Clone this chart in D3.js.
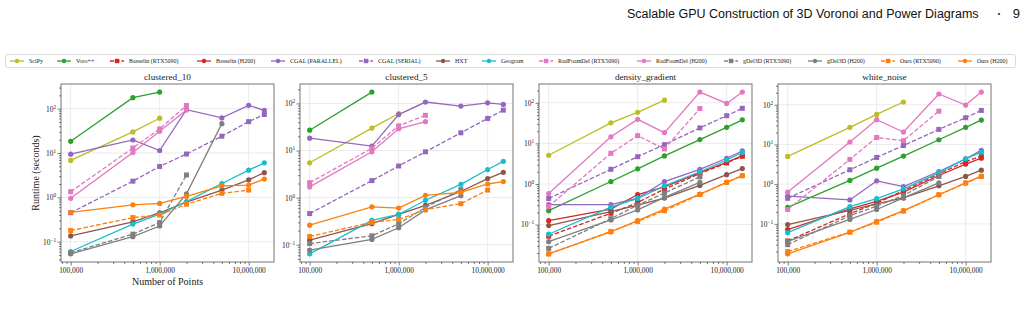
<!DOCTYPE html>
<html><head><meta charset="utf-8">
<script src="https://cdn.jsdelivr.net/npm/d3@7"></script>
<style>body{margin:0;background:#fff}svg{display:block}</style>
</head><body><svg id="c" width="1025" height="317"></svg>
<script>
// ---------- data ----------
const xValues = [1e5, 5e5, 1e6, 2e6, 5e6, 1e7, 1.5e7];
const datasetNames = ["clustered_10", "clustered_5", "density_gradient", "white_noise"];
const seriesNames = ["SciPy", "Voro++", "Basselin (RTX5090)", "Basselin (H200)", "CGAL (PARALLEL)", "CGAL (SERIAL)", "HXT", "Geogram",
  "RadFoamDel (RTX5090)", "RadFoamDel (H200)", "gDel3D (RTX5090)", "gDel3D (H200)", "Ours (RTX5090)", "Ours (H200)"];
const seriesColors = ["#bcbd22", "#2ca02c", "#d62728", "#d62728", "#9467bd", "#9467bd", "#8c564b", "#17becf",
  "#e377c2", "#e377c2", "#7f7f7f", "#7f7f7f", "#ff7f0e", "#ff7f0e"];
const seriesDashed = [false, false, true, false, false, true, false, false, true, false, true, false, true, false];
const seriesMarker = ["circle", "circle", "square", "circle", "circle", "square", "circle", "circle", "square", "circle", "square", "circle", "square", "circle"];
const xTickValues = [1e5, 1e6, 1e7];
const xTickLabels = ["100,000", "1,000,000", "10,000,000"];

// values per series (series order as above), by x index
const clustered10 = [
  [6.8, 30, 61],
  [18.4, 177, 237],
  [],
  [],
  [9.4, 19.7, 11.4, 95, 62, 119, 92],
  [0.45, 2.32, 4.98, 9.5, 24, 51, 74],
  [0.135, 0.28, 0.45, 0.78, 1.46, 2.49, 3.6],
  [0.06, 0.25, 0.42, 0.8, 2.05, 4.1, 6.0],
  [1.34, 13, 35, 118],
  [0.95, 10.3, 31, 94],
  [0.056, 0.148, 0.27, 3.2],
  [0.053, 0.13, 0.226, 1.2, 46],
  [0.178, 0.35, 0.40, 0.70, 1.23, 1.46],
  [0.46, 0.68, 0.73, 1.05, 1.82, 1.89, 2.58]
];
const clustered5 = [
  [5.5, 30, 61],
  [27, 174],
  [],
  [],
  [18.3, 12.4, 58, 107, 88, 103, 95],
  [0.46, 2.3, 4.7, 9.4, 23.8, 48, 72],
  [0.125, 0.28, 0.44, 0.685, 1.35, 2.54, 3.45],
  [0.064, 0.33, 0.44, 0.88, 1.92, 3.95, 5.9],
  [2.08, 11.2, 33.5, 56],
  [1.69, 9.4, 29, 41],
  [0.106, 0.155, 0.28, 0.62, 1.48],
  [0.077, 0.13, 0.23, 0.55, 1.1],
  [0.15, 0.30, 0.345, 0.56, 0.745, 1.45],
  [0.26, 0.64, 0.60, 1.12, 1.3, 1.95, 2.2]
];
const densityGradient = [
  [5.1, 32, 58, 116],
  [0.22, 1.15, 2.36, 4.9, 12.4, 24.8, 38],
  [0.052, 0.19, 0.35, 0.75, 1.8, 3.3, 4.8],
  [0.125, 0.24, 0.55, 0.85, 1.9, 3.4, 5.0],
  [0.31, 0.31, 0.45, 1.15, 2.3, 4.3, 6.5],
  [0.44, 2.3, 4.7, 9.3, 24, 48, 73],
  [0.095, 0.21, 0.3, 0.45, 0.92, 1.7, 2.4],
  [0.058, 0.27, 0.44, 0.9, 2.0, 3.9, 6.0],
  [0.28, 5.7, 15.5, 7.3, 72],
  [0.58, 14.5, 39, 18.4, 183, 96, 183],
  [0.026, 0.14, 0.3, 0.6, 1.5],
  [0.038, 0.13, 0.23, 0.47, 1.1],
  [0.019, 0.068, 0.12, 0.22, 0.55, 1.1, 1.6],
  [0.019, 0.066, 0.125, 0.24, 0.56, 1.1, 1.6]
];
const whiteNoise = [
  [5.0, 27, 57, 117],
  [0.26, 1.24, 2.53, 5.1, 13.1, 26.9, 41],
  [0.037, 0.18, 0.33, 0.69, 1.8, 3.7, 5.1],
  [0.072, 0.24, 0.37, 0.63, 1.65, 3.2, 4.5],
  [0.50, 0.40, 1.21, 0.87, 2.08, 4.35, 7.1],
  [0.44, 2.3, 4.7, 9.4, 23.9, 47, 72],
  [0.096, 0.217, 0.32, 0.45, 0.91, 1.56, 2.25],
  [0.060, 0.27, 0.43, 0.76, 1.93, 4.35, 6.4],
  [0.23, 4.2, 15, 12.4, 69],
  [0.63, 11.5, 42, 20.5, 186, 98, 208],
  [0.030, 0.16, 0.28, 0.52, 1.56],
  [0.036, 0.129, 0.23, 0.45, 1.08],
  [0.020, 0.062, 0.11, 0.21, 0.54, 1.06, 1.56],
  [0.0175, 0.061, 0.115, 0.215, 0.54, 1.08, 1.6]
];
const panelValues = [clustered10, clustered5, densityGradient, whiteNoise];

// ---------- layout ----------
const SERIF = "'Liberation Serif', 'Times New Roman', serif";
const svg = d3.select("#c");
const W = 213, TOP = 84, BOT = 262;
const panelX0 = 61, panelStep = 239;
const legendTextX = [29, 76, 129, 216, 290, 378, 455, 501, 558, 656, 743, 827, 900, 977];

// header
svg.append("text").attr("x", 627).attr("y", 18)
  .attr("font-family", "'Liberation Sans',sans-serif").attr("font-size", 12.5).attr("fill", "#111")
  .text("Scalable GPU Construction of 3D Voronoi and Power Diagrams");
svg.append("text").attr("x", 999).attr("y", 16).attr("text-anchor", "middle")
  .attr("font-family", "'Liberation Sans',sans-serif").attr("font-size", 7).attr("fill", "#111").text("•");
svg.append("text").attr("x", 1020).attr("y", 18).attr("text-anchor", "end")
  .attr("font-family", "'Liberation Sans',sans-serif").attr("font-size", 13).attr("fill", "#111").text("9");

function drawMarker(g, type, cx, cy, color, size) {
  if (type === "square") {
    g.append("rect").attr("x", cx - size / 2).attr("y", cy - size / 2).attr("width", size).attr("height", size).attr("fill", color);
  } else {
    g.append("circle").attr("cx", cx).attr("cy", cy).attr("r", size / 2).attr("fill", color);
  }
}

// legend
const lg = svg.append("g");
lg.append("rect").attr("x", 5.5).attr("y", 54.5).attr("width", 1010).attr("height", 13).attr("rx", 2)
  .attr("fill", "#fff").attr("stroke", "#d0d0d0").attr("stroke-width", 0.8);
seriesNames.forEach((name, i) => {
  const tx = legendTextX[i], cy = 61;
  const x1 = tx - 19, x2 = tx - 5;
  lg.append("line").attr("x1", x1).attr("x2", x2).attr("y1", cy).attr("y2", cy)
    .attr("stroke", seriesColors[i]).attr("stroke-width", 1.3)
    .attr("stroke-dasharray", seriesDashed[i] ? "4,1.7" : null);
  drawMarker(lg, seriesMarker[i], (x1 + x2) / 2, cy, seriesColors[i], 4.4);
  lg.append("text").attr("x", tx).attr("y", cy + 2).attr("font-family", SERIF).attr("font-size", 6)
    .attr("fill", "#222").text(name);
});

// panels
datasetNames.forEach((dname, p) => {
  const L = panelX0 + p * panelStep, R = L + W;
  const vals = panelValues[p];
  const g = svg.append("g");

  const xl = [Math.log10(xValues[0]), Math.log10(xValues[xValues.length - 1])];
  const xp = 0.05 * (xl[1] - xl[0]);
  const x = d3.scaleLog().domain([10 ** (xl[0] - xp), 10 ** (xl[1] + xp)]).range([L, R]);
  const all = vals.flat();
  const yl = [Math.log10(d3.min(all)), Math.log10(d3.max(all))];
  const yp = 0.05 * (yl[1] - yl[0]);
  const y = d3.scaleLog().domain([10 ** (yl[0] - yp), 10 ** (yl[1] + yp)]).range([BOT, TOP]);

  const yMajor = [];
  for (let k = Math.ceil(yl[0] - yp); k <= Math.floor(yl[1] + yp); k++) yMajor.push(10 ** k);
  const yMinor = [];
  for (let k = Math.floor(yl[0] - yp); k <= Math.ceil(yl[1] + yp); k++)
    for (let m = 2; m <= 9; m++) { const v = m * 10 ** k; if (v >= y.domain()[0] && v <= y.domain()[1]) yMinor.push(v); }
  const xMinor = [];
  for (let k = 4; k <= 7; k++) for (let m = 2; m <= 9; m++) { const v = m * 10 ** k; if (v >= x.domain()[0] && v <= x.domain()[1]) xMinor.push(v); }

  // grid
  g.selectAll(".gx").data(xTickValues).enter().append("line")
    .attr("x1", d => x(d)).attr("x2", d => x(d)).attr("y1", TOP).attr("y2", BOT)
    .attr("stroke", "#e6e6e6").attr("stroke-width", 0.8);
  g.selectAll(".gy").data(yMajor).enter().append("line")
    .attr("x1", L).attr("x2", R).attr("y1", d => y(d)).attr("y2", d => y(d))
    .attr("stroke", "#e6e6e6").attr("stroke-width", 0.8);

  // series
  vals.forEach((arr, si) => {
    if (!arr.length) return;
    const pts = arr.map((v, j) => [xValues[j], v]);
    g.append("path").datum(pts)
      .attr("d", d3.line().x(d => x(d[0])).y(d => y(d[1])))
      .attr("fill", "none").attr("stroke", seriesColors[si]).attr("stroke-width", 1.3)
      .attr("stroke-dasharray", seriesDashed[si] ? "4.5,2" : null);
    pts.forEach(d => drawMarker(g, seriesMarker[si], x(d[0]), y(d[1]), seriesColors[si], seriesMarker[si] === "square" ? 5 : 5.2));
  });

  // frame
  g.append("rect").attr("x", L).attr("y", TOP).attr("width", W).attr("height", BOT - TOP)
    .attr("fill", "none").attr("stroke", "#8a8a8a").attr("stroke-width", 1.2);

  // x axis
  const xAx = g.append("g").attr("transform", `translate(0,${BOT})`)
    .call(d3.axisBottom(x).tickValues(xTickValues).tickFormat((d, i) => xTickLabels[i]).tickSize(3.5).tickPadding(2));
  const xAxMinor = g.append("g").attr("transform", `translate(0,${BOT})`)
    .call(d3.axisBottom(x).tickValues(xMinor).tickFormat("").tickSize(2));
  [xAx, xAxMinor].forEach(a => { a.select(".domain").remove(); a.selectAll("line").attr("stroke", "#444").attr("stroke-width", 0.7); });
  xAx.selectAll("text").attr("font-family", SERIF).attr("font-size", 7.4).attr("fill", "#222");

  // y axis
  const yAx = g.append("g").attr("transform", `translate(${L},0)`)
    .call(d3.axisLeft(y).tickValues(yMajor).tickFormat("").tickSize(3.5).tickPadding(2));
  const yAxMinor = g.append("g").attr("transform", `translate(${L},0)`)
    .call(d3.axisLeft(y).tickValues(yMinor).tickFormat("").tickSize(2));
  [yAx, yAxMinor].forEach(a => { a.select(".domain").remove(); a.selectAll("line").attr("stroke", "#444").attr("stroke-width", 0.7); });
  yAx.selectAll(".tick").each(function (d) {
    const e = Math.round(Math.log10(d));
    const t = d3.select(this).select("text").text(null).attr("x", -5).attr("dy", "0.32em")
      .attr("font-family", SERIF).attr("font-size", 7.4).attr("fill", "#222").attr("text-anchor", "end");
    t.append("tspan").text("10");
    t.append("tspan").attr("dy", -3).attr("font-size", 5.2).text(e < 0 ? "\u2212" + (-e) : String(e));
  });

  // title
  g.append("text").attr("x", (L + R) / 2).attr("y", 80).attr("text-anchor", "middle")
    .attr("font-family", SERIF).attr("font-size", 9.2).attr("fill", "#222").text(dname);

  if (p === 0) {
    g.append("text").attr("transform", `translate(39,${(TOP + BOT) / 2}) rotate(-90)`).attr("text-anchor", "middle")
      .attr("font-family", SERIF).attr("font-size", 10).attr("fill", "#222").text("Runtime (seconds)");
    g.append("text").attr("x", (L + R) / 2).attr("y", 285).attr("text-anchor", "middle")
      .attr("font-family", SERIF).attr("font-size", 10).attr("fill", "#222").text("Number of Points");
  }
});
</script></body></html>
